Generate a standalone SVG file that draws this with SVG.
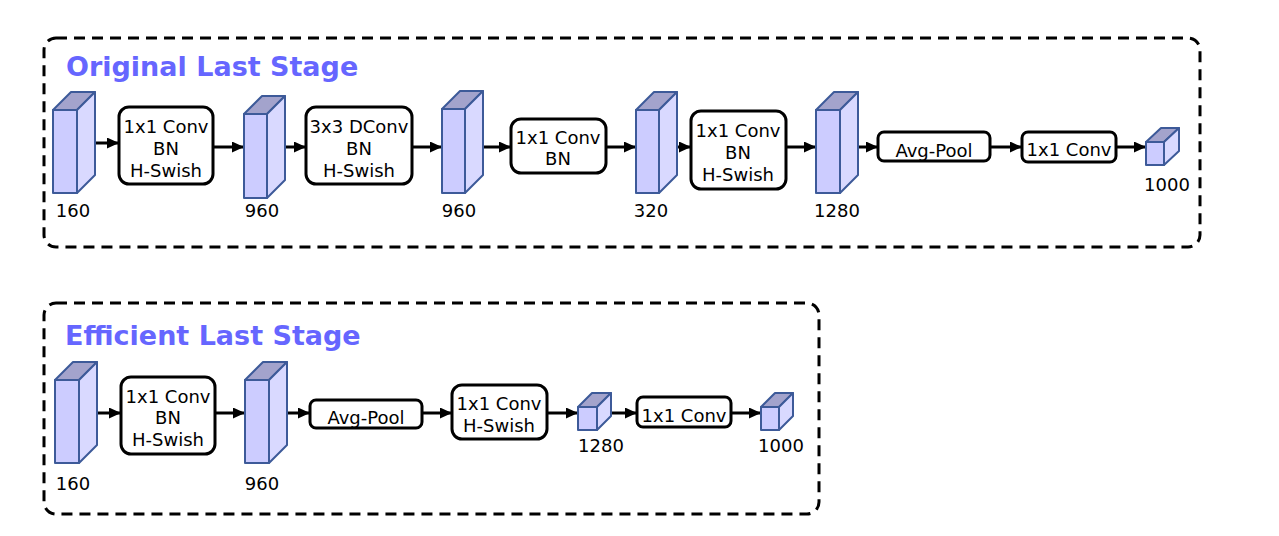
<svg xmlns="http://www.w3.org/2000/svg" width="1279" height="536" viewBox="0 0 1279 536">
<style>
.frame{fill:none;stroke:#000;stroke-width:3;stroke-dasharray:11 7}
.title{font-family:"DejaVu Sans",sans-serif;font-weight:bold;font-size:27px;fill:#6666ff}
.box{fill:#fff;stroke:#000;stroke-width:3}
.t{font-family:"DejaVu Sans",sans-serif;font-size:18px;fill:#000;text-anchor:middle}
.lbl{font-family:"DejaVu Sans",sans-serif;font-size:18px;fill:#000;text-anchor:middle}
.front{fill:#ccccff;stroke:#3d5a99;stroke-width:2;stroke-linejoin:round}
.side{fill:#d9d9ff;stroke:#3d5a99;stroke-width:2;stroke-linejoin:round}
.top{fill:#a3a3cc;stroke:#3d5a99;stroke-width:2;stroke-linejoin:round}
.arr{stroke:#000;stroke-width:3;fill:none;marker-end:url(#ah)}
</style>
<defs>
<marker id="ah" markerUnits="userSpaceOnUse" markerWidth="13" markerHeight="12" refX="12" refY="5.5" orient="auto">
<path d="M0,0 L12,5.5 L0,11 Z" fill="#000"/>
</marker>
</defs>
<rect id="frame-original" class="frame" x="44" y="38" width="1156" height="209" rx="12"/>
<text class="title" x="66" y="76">Original Last Stage</text>
<rect id="frame-efficient" class="frame" x="44" y="303" width="775" height="211" rx="12"/>
<text class="title" x="65" y="345">Efficient Last Stage</text>

<g id="connectors">
<line class="arr" x1="90" y1="143" x2="119" y2="143"/>
<line class="arr" x1="213" y1="147" x2="244" y2="147"/>
<line class="arr" x1="276" y1="147" x2="306" y2="147"/>
<line class="arr" x1="412" y1="147" x2="442" y2="147"/>
<line class="arr" x1="478" y1="147" x2="511" y2="147"/>
<line class="arr" x1="606" y1="147" x2="636" y2="147"/>
<line class="arr" x1="662" y1="147" x2="691" y2="147"/>
<line class="arr" x1="786" y1="147" x2="816" y2="147"/>
<line class="arr" x1="849" y1="147" x2="878" y2="147"/>
<line class="arr" x1="990" y1="147" x2="1022" y2="147"/>
<line class="arr" x1="1116" y1="147" x2="1146" y2="147"/>
<line class="arr" x1="92" y1="413" x2="121" y2="413"/>
<line class="arr" x1="215" y1="413" x2="245" y2="413"/>
<line class="arr" x1="277" y1="413" x2="310" y2="413"/>
<line class="arr" x1="422" y1="413" x2="452" y2="413"/>
<line class="arr" x1="547" y1="413" x2="578" y2="413"/>
<line class="arr" x1="605" y1="413" x2="637" y2="413"/>
<line class="arr" x1="731" y1="413" x2="761" y2="413"/>
</g>

<!-- Original stage -->
<g id="t-160">
<path class="top" d="M53,110 L71,92 L95,92 L77,110 Z"/>
<path class="side" d="M77,110 L95,92 L95,175 L77,193 Z"/>
<rect class="front" x="53" y="110" width="24" height="83"/>
<text class="lbl" x="73" y="217">160</text>
</g>
<g id="b-conv1">
<rect class="box" x="119" y="107" width="94" height="77" rx="10"/>
<text class="t" x="166" y="133">1x1 Conv</text>
<text class="t" x="166" y="155">BN</text>
<text class="t" x="166" y="177">H-Swish</text>
</g>
<g id="t-960a">
<path class="top" d="M244,114 L262,96 L285,96 L267,114 Z"/>
<path class="side" d="M267,114 L285,96 L285,180 L267,198 Z"/>
<rect class="front" x="244" y="114" width="23" height="84"/>
<text class="lbl" x="262" y="217">960</text>
</g>
<g id="b-dconv">
<rect class="box" x="306" y="107" width="106" height="77" rx="10"/>
<text class="t" x="359" y="133">3x3 DConv</text>
<text class="t" x="359" y="155">BN</text>
<text class="t" x="359" y="177">H-Swish</text>
</g>
<g id="t-960b">
<path class="top" d="M442,109 L460,91 L483,91 L465,109 Z"/>
<path class="side" d="M465,109 L483,91 L483,175 L465,193 Z"/>
<rect class="front" x="442" y="109" width="23" height="84"/>
<text class="lbl" x="459" y="217">960</text>
</g>
<g id="b-conv2">
<rect class="box" x="511" y="119" width="95" height="54" rx="10"/>
<text class="t" x="558" y="144">1x1 Conv</text>
<text class="t" x="558" y="165">BN</text>
</g>
<g id="t-320">
<path class="top" d="M636,110 L654,92 L677,92 L659,110 Z"/>
<path class="side" d="M659,110 L677,92 L677,175 L659,193 Z"/>
<rect class="front" x="636" y="110" width="23" height="83"/>
<text class="lbl" x="651" y="217">320</text>
</g>
<g id="b-conv3">
<rect class="box" x="691" y="111" width="95" height="78" rx="10"/>
<text class="t" x="738" y="137">1x1 Conv</text>
<text class="t" x="738" y="159">BN</text>
<text class="t" x="738" y="181">H-Swish</text>
</g>
<g id="t-1280">
<path class="top" d="M816,110 L834,92 L858,92 L840,110 Z"/>
<path class="side" d="M840,110 L858,92 L858,175 L840,193 Z"/>
<rect class="front" x="816" y="110" width="24" height="83"/>
<text class="lbl" x="837" y="217">1280</text>
</g>
<g id="b-pool1">
<rect class="box" x="878" y="132" width="112" height="29" rx="6"/>
<text class="t" x="934" y="157">Avg-Pool</text>
</g>
<g id="b-conv4">
<rect class="box" x="1022" y="132" width="94" height="30" rx="6"/>
<text class="t" x="1069" y="156">1x1 Conv</text>
</g>
<g id="t-1000a">
<path class="top" d="M1146,142 L1161,128 L1179,128 L1164,142 Z"/>
<path class="side" d="M1164,142 L1179,128 L1179,151 L1164,165 Z"/>
<rect class="front" x="1146" y="142" width="18" height="23"/>
<text class="lbl" x="1167" y="191">1000</text>
</g>

<!-- Efficient stage -->
<g id="e-160">
<path class="top" d="M55,380 L73,362 L97,362 L79,380 Z"/>
<path class="side" d="M79,380 L97,362 L97,445 L79,463 Z"/>
<rect class="front" x="55" y="380" width="24" height="83"/>
<text class="lbl" x="73" y="490">160</text>
</g>
<g id="e-conv1">
<rect class="box" x="121" y="377" width="94" height="77" rx="10"/>
<text class="t" x="168" y="403">1x1 Conv</text>
<text class="t" x="168" y="424">BN</text>
<text class="t" x="168" y="446">H-Swish</text>
</g>
<g id="e-960">
<path class="top" d="M245,380 L263,362 L287,362 L269,380 Z"/>
<path class="side" d="M269,380 L287,362 L287,445 L269,463 Z"/>
<rect class="front" x="245" y="380" width="24" height="83"/>
<text class="lbl" x="262" y="490">960</text>
</g>
<g id="e-pool">
<rect class="box" x="310" y="400" width="112" height="28" rx="6"/>
<text class="t" x="366" y="424">Avg-Pool</text>
</g>
<g id="e-conv2">
<rect class="box" x="452" y="385" width="95" height="54" rx="10"/>
<text class="t" x="499" y="410">1x1 Conv</text>
<text class="t" x="499" y="432">H-Swish</text>
</g>
<g id="e-1280">
<path class="top" d="M578,407 L592,393 L611,393 L597,407 Z"/>
<path class="side" d="M597,407 L611,393 L611,416 L597,430 Z"/>
<rect class="front" x="578" y="407" width="19" height="23"/>
<text class="lbl" x="601" y="452">1280</text>
</g>
<g id="e-conv3">
<rect class="box" x="637" y="397" width="94" height="30" rx="6"/>
<text class="t" x="684" y="422">1x1 Conv</text>
</g>
<g id="e-1000">
<path class="top" d="M761,407 L775,393 L793,393 L779,407 Z"/>
<path class="side" d="M779,407 L793,393 L793,416 L779,430 Z"/>
<rect class="front" x="761" y="407" width="18" height="23"/>
<text class="lbl" x="781" y="452">1000</text>
</g>
</svg>
